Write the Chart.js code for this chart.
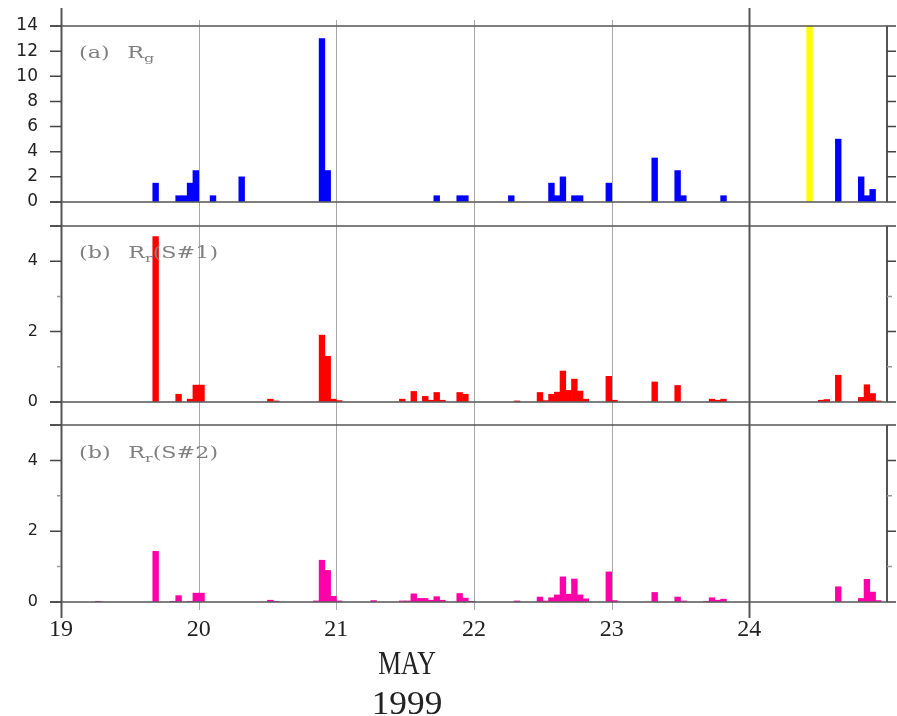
<!DOCTYPE html>
<html>
<head>
<meta charset="utf-8">
<script src="https://cdn.jsdelivr.net/npm/chart.js@4.4.0/dist/chart.umd.min.js"></script>
<style>
  body { margin: 0; background: #fff; }
  #wrap { position: relative; width: 897px; height: 716px; overflow: hidden; background: #fff; }
  canvas { position: absolute; left: 0; }
  .lbl { position: absolute; left: 79px; font-family: 'DejaVu Serif'; font-size: 16.5px; line-height: 1;
         color: #808080; transform: scaleX(1.35); transform-origin: 0 0; white-space: nowrap; }
  .lbl .r { margin-left: 13px; }
  .lbl sub { font-size: 0.72em; vertical-align: -0.35em; line-height: 0; }
  .cap { position: absolute; left: 307px; width: 200px; text-align: center; font-family: 'Liberation Serif';
         color: #222; line-height: 1; white-space: nowrap; transform-origin: 50% 0; }
</style>
</head>
<body>
<div id="wrap">
  <canvas id="c1" width="897" height="214" style="top:0px"></canvas>
  <canvas id="c2" width="897" height="200" style="top:214px"></canvas>
  <canvas id="c3" width="897" height="302" style="top:414px"></canvas>
  <div class="lbl" style="top:45px">(a)<span class="r">R<sub>g</sub></span></div>
  <div class="lbl" style="top:245px">(b)<span class="r">R<sub>r</sub>(S#1)</span></div>
  <div class="lbl" style="top:445px">(b)<span class="r">R<sub>r</sub>(S#2)</span></div>
  <div class="cap" style="top:647px; font-size:33px; transform:scaleX(0.78)">MAY</div>
  <div class="cap" style="top:687px; font-size:33px; transform:scaleX(1.07)">1999</div>
</div>
<script>
// days of May 1999 on the x axis
const days = [19, 20, 21, 22, 23, 24];
const dayLabels = ['19', '20', '21', '22', '23', '24'];

// hour index counted from 19 May 00:00, one bar per hour
const rgHours = [16, 20, 21, 22, 23, 26, 31, 45, 46, 65, 69, 70, 78, 85, 86, 87, 89, 90, 95, 103, 107, 108, 115, 135, 139, 140, 141];
const rgValues = [1.5, 0.5, 0.5, 1.5, 2.5, 0.5, 2, 13, 2.5, 0.5, 0.5, 0.5, 0.5, 1.5, 0.5, 2, 0.5, 0.5, 1.5, 3.5, 2.5, 0.5, 0.5, 5, 2, 0.5, 1];
const flagHours = [130];
const flagValues = [14];

const s1Hours = [16, 20, 22, 23, 24, 36, 37, 45, 46, 47, 48, 59, 61, 63, 64, 65, 66, 69, 70, 79, 83, 84, 85, 86, 87, 88, 89, 90, 91, 95, 96, 103, 107, 113, 114, 115, 132, 133, 135, 139, 140, 141, 142];
const s1Values = [4.7, 0.22, 0.08, 0.48, 0.48, 0.08, 0.03, 1.9, 1.3, 0.08, 0.04, 0.08, 0.3, 0.16, 0.05, 0.27, 0.05, 0.27, 0.22, 0.03, 0.27, 0.04, 0.22, 0.28, 0.88, 0.33, 0.65, 0.31, 0.08, 0.73, 0.05, 0.57, 0.47, 0.08, 0.05, 0.08, 0.05, 0.07, 0.76, 0.13, 0.49, 0.24, 0.03];

const s2Hours = [6, 16, 19, 20, 22, 23, 24, 36, 37, 44, 45, 46, 47, 48, 54, 59, 60, 61, 62, 63, 64, 65, 66, 69, 70, 71, 79, 83, 84, 85, 86, 87, 88, 89, 90, 91, 95, 96, 103, 107, 108, 112, 113, 114, 115, 135, 139, 140, 141, 142];
const s2Values = [0.02, 1.43, 0.02, 0.18, 0.02, 0.25, 0.25, 0.05, 0.02, 0.03, 1.18, 0.89, 0.16, 0.03, 0.04, 0.03, 0.03, 0.23, 0.1, 0.1, 0.05, 0.15, 0.05, 0.24, 0.11, 0.02, 0.03, 0.14, 0.03, 0.12, 0.2, 0.71, 0.22, 0.65, 0.2, 0.09, 0.85, 0.04, 0.27, 0.14, 0.03, 0.02, 0.12, 0.05, 0.08, 0.43, 0.1, 0.64, 0.28, 0.04];

const toPoints = (hours, values) => hours.map((h, i) => ({ x: 19 + (h + 0.5) / 24, y: values[i] }));

// day lines, panel frame and tick marks
function framePlugin(cfg) {
  return {
    id: 'frame',
    beforeDatasetsDraw(chart) {
      const ctx = chart.ctx;
      const xs = chart.scales.x;
      ctx.save();
      days.forEach(d => {
        const dark = d === 19 || d === 24;
        const x = Math.round(xs.getPixelForValue(d)) + 0.5;
        ctx.strokeStyle = dark ? '#555' : '#a8a8a8';
        ctx.lineWidth = dark ? 2 : 1;
        ctx.beginPath();
        ctx.moveTo(x, dark ? cfg.darkTop : cfg.lightTop);
        ctx.lineTo(x, dark ? cfg.darkBottom : cfg.lightBottom);
        ctx.stroke();
      });
      ctx.restore();
    },
    afterDatasetsDraw(chart) {
      const ctx = chart.ctx;
      const a = chart.chartArea;
      const y = chart.scales.y;
      ctx.save();
      ctx.strokeStyle = '#555';
      ctx.lineWidth = 1.5;
      [a.top, a.bottom].forEach(py => {
        ctx.beginPath();
        ctx.moveTo(a.left - 11, py);
        ctx.lineTo(a.right, py);
        ctx.stroke();
      });
      ctx.lineWidth = 2;
      ctx.beginPath();
      ctx.moveTo(a.right, a.top);
      ctx.lineTo(a.right, a.bottom);
      ctx.stroke();
      y.ticks.forEach(t => {
        const py = y.getPixelForValue(t.value);
        const major = t.value % 2 === 0 || t.value === y.max;
        ctx.strokeStyle = major ? '#444' : '#999';
        ctx.lineWidth = 1.5;
        ctx.beginPath();
        ctx.moveTo(a.left - (major ? 11 : 4), py);
        ctx.lineTo(a.left, py);
        ctx.moveTo(a.right, py);
        ctx.lineTo(a.right + (major ? 9 : 5), py);
        ctx.stroke();
      });
      ctx.restore();
    }
  };
}

function makeChart(id, datasets, yMax, fontSize, cfg) {
  return new Chart(document.getElementById(id), {
    type: 'bar',
    data: { datasets: datasets },
    options: {
      responsive: false,
      animation: false,
      layout: { padding: { top: cfg.top, bottom: cfg.bottom, left: 0, right: 10 } },
      plugins: { legend: { display: false }, tooltip: { enabled: false } },
      datasets: { bar: { barPercentage: 1, categoryPercentage: 1, grouped: false, borderWidth: 0 } },
      scales: {
        x: {
          type: 'linear', min: 19, max: 25, offset: false, display: cfg.showX,
          grid: { display: true, drawOnChartArea: false, drawTicks: true, tickLength: 13, tickColor: 'rgba(0,0,0,0)' },
          border: { display: false },
          afterBuildTicks: s => { s.ticks = days.map(v => ({ value: v })); },
          afterFit: s => { if (cfg.showX) s.height = cfg.xHeight; },
          ticks: {
            autoSkip: false, maxRotation: 0, padding: 0, color: '#222',
            font: { family: 'Liberation Serif', size: 24 },
            callback: v => dayLabels[days.indexOf(v)]
          }
        },
        y: {
          min: 0, max: yMax,
          afterFit: s => { s.width = 61; },
          grid: { display: true, drawOnChartArea: false, drawTicks: true, tickLength: 23, tickColor: 'rgba(0,0,0,0)' },
          border: { display: false },
          ticks: {
            stepSize: 1, padding: 0, color: '#222',
            font: { family: 'DejaVu Sans', size: fontSize },
            callback: v => (v % 2 === 0 ? String(v) : '')
          }
        }
      }
    },
    plugins: [framePlugin(cfg)]
  });
}

makeChart('c1', [
  { data: toPoints(rgHours, rgValues), backgroundColor: '#0000ff' },
  { data: toPoints(flagHours, flagValues), backgroundColor: '#ffff00' }
], 14, 17, { top: 26, bottom: 12, showX: false, lightTop: 20, lightBottom: 214, darkTop: 8, darkBottom: 214 });

makeChart('c2', [
  { data: toPoints(s1Hours, s1Values), backgroundColor: '#ff0000' }
], 5, 16, { top: 12, bottom: 12, showX: false, lightTop: 0, lightBottom: 200, darkTop: 0, darkBottom: 200 });

makeChart('c3', [
  { data: toPoints(s2Hours, s2Values), backgroundColor: '#ff00a8' }
], 5, 16, { top: 11, bottom: 0, showX: true, xHeight: 114, lightTop: 0, lightBottom: 196, darkTop: 0, darkBottom: 204 });
</script>
</body>
</html>
